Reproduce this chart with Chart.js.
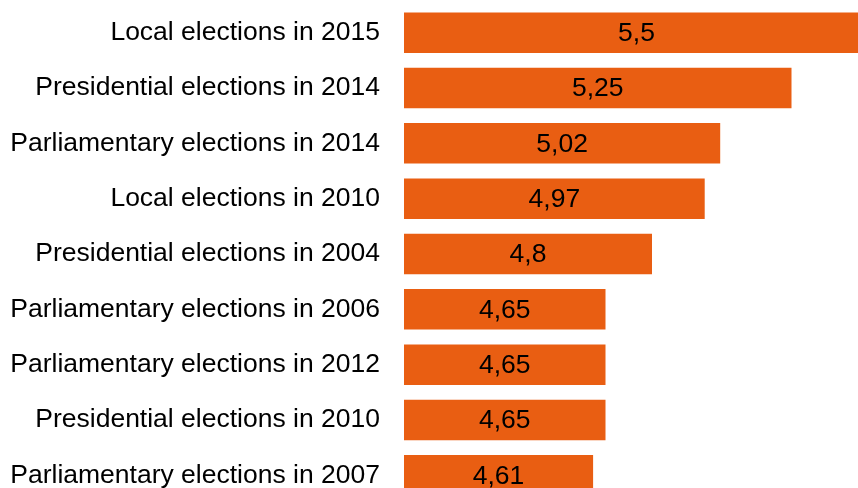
<!DOCTYPE html>
<html>
<head>
<meta charset="utf-8">
<script src="https://cdn.jsdelivr.net/npm/chart.js@4/dist/chart.umd.min.js"></script>
<style>
  html, body { margin: 0; padding: 0; background: #ffffff; overflow: hidden; }
  canvas { display: block; }
</style>
</head>
<body>
<canvas id="chart" width="869" height="503"></canvas>
<script>
// Elections, ranked by score
const categories = [
  'Local elections in 2015',
  'Presidential elections in 2014',
  'Parliamentary elections in 2014',
  'Local elections in 2010',
  'Presidential elections in 2004',
  'Parliamentary elections in 2006',
  'Parliamentary elections in 2012',
  'Presidential elections in 2010',
  'Parliamentary elections in 2007'
];
const scores = [5.5, 5.25, 5.02, 4.97, 4.8, 4.65, 4.65, 4.65, 4.61];
const axisMin = 4;
const axisMax = 5.5;

const FONT = '"Liberation Sans", Arial, Helvetica, sans-serif';
const FONT_SIZE = 26.5;

// Writes each value (decimal comma) in the middle of its bar
const valueLabels = {
  id: 'valueLabels',
  afterDatasetsDraw(chart) {
    const ctx = chart.ctx;
    const xs = chart.scales.x;
    const x0 = xs.getPixelForValue(axisMin);
    const meta = chart.getDatasetMeta(0);
    ctx.save();
    ctx.font = FONT_SIZE + 'px ' + FONT;
    ctx.fillStyle = '#000000';
    ctx.textAlign = 'center';
    ctx.textBaseline = 'middle';
    meta.data.forEach((bar, i) => {
      const v = scores[i];
      const cx = (x0 + xs.getPixelForValue(v)) / 2;
      ctx.fillText(String(v).replace('.', ','), cx, bar.y + 1);
    });
    ctx.restore();
  }
};

new Chart(document.getElementById('chart'), {
  type: 'bar',
  data: {
    labels: categories,
    datasets: [{
      data: scores,
      backgroundColor: '#E95E12',
      borderWidth: 0,
      barPercentage: 0.732,
      categoryPercentage: 1.0
    }]
  },
  options: {
    indexAxis: 'y',
    responsive: false,
    maintainAspectRatio: false,
    devicePixelRatio: 1,
    animation: false,
    layout: { padding: { top: 5, right: 0, bottom: 0, left: 0 } },
    plugins: {
      legend: { display: false },
      tooltip: { enabled: false }
    },
    scales: {
      x: {
        display: false,
        min: axisMin,
        max: axisMax
      },
      y: {
        afterFit(scale) {
          scale.width = 404;
          // the category rows run edge to edge; no extra room for end labels
          scale.paddingTop = 0;
          scale.paddingBottom = 0;
        },
        border: { display: false },
        grid: { display: false, drawTicks: false },
        ticks: {
          padding: 24,
          color: '#000000',
          font: { family: FONT, size: FONT_SIZE }
        }
      }
    }
  },
  plugins: [valueLabels]
});
</script>
</body>
</html>
